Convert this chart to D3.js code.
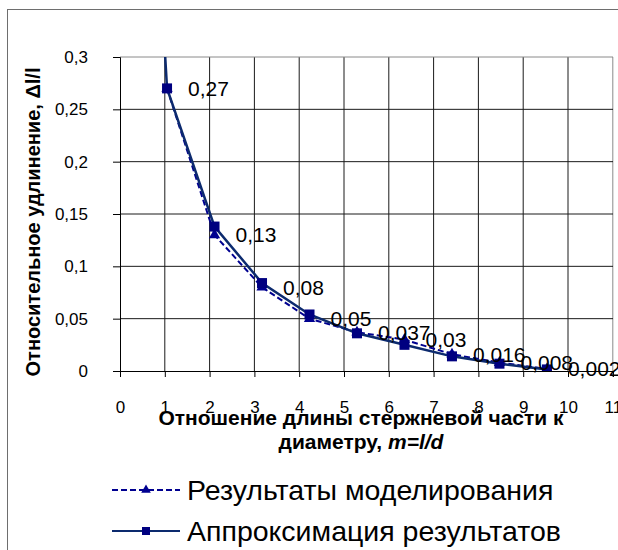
<!DOCTYPE html>
<html>
<head>
<meta charset="utf-8">
<script src="https://cdn.jsdelivr.net/npm/d3@7"></script>
<style>
  body { margin: 0; background: #fff; }
  svg { display: block; font-family: "Liberation Sans", Arial, sans-serif; }
</style>
</head>
<body>
<div id="chart"></div>
<script>
// m = l/d, shared by both series
const mValues = [1.05, 2.11, 3.17, 4.23, 5.29, 6.35, 7.41, 8.47, 9.53];
// Результаты моделирования (labelled points)
const modelValues = [0.27, 0.13, 0.08, 0.05, 0.037, 0.03, 0.016, 0.008, 0.002];
const modelLabels = ["0,27", "0,13", "0,08", "0,05", "0,037", "0,03", "0,016", "0,008", "0,002"];
// Аппроксимация результатов (first point lies above the axis maximum)
const approxM = [0.6, 1.05, 2.11, 3.17, 4.23, 5.29, 6.35, 7.41, 8.47, 9.53];
const approxValues = [0.6, 0.27, 0.138, 0.084, 0.054, 0.036, 0.025, 0.014, 0.007, 0.0015];

const xTicks = [0, 1, 2, 3, 4, 5, 6, 7, 8, 9, 10, 11];
const yTicks = [0, 0.05, 0.1, 0.15, 0.2, 0.25, 0.3];
const yTickLabels = ["0", "0,05", "0,1", "0,15", "0,2", "0,25", "0,3"];
const seriesNames = ["Результаты моделирования", "Аппроксимация результатов"];

const W = 618, H = 550;
const margin = {top: 57, right: 5, bottom: 179, left: 120};
const plotW = W - margin.left - margin.right,   // 493 -> 0..11
      plotH = H - margin.top - margin.bottom;   // 314 -> 0..0.3

const svg = d3.select("#chart").append("svg")
    .attr("width", W)
    .attr("height", H);

// outer chart border
svg.append("rect")
    .attr("x", 7.5).attr("y", 9.5)
    .attr("width", W).attr("height", H)
    .attr("fill", "none")
    .attr("stroke", "#6e6e6e");

const g = svg.append("g")
    .attr("transform", "translate(" + margin.left + "," + margin.top + ")");

const x = d3.scaleLinear().domain([0, 11]).range([0, plotW - 0.2]);
const y = d3.scaleLinear().domain([0, 0.3]).range([plotH, 0]);

g.append("clipPath").attr("id", "clip")
  .append("rect").attr("width", plotW).attr("height", plotH);

// grid
g.append("g").selectAll("line")
    .data(xTicks.slice(1))
    .enter().append("line")
    .attr("x1", d => x(d)).attr("x2", d => x(d))
    .attr("y1", 0).attr("y2", plotH)
    .attr("stroke", d => d === 11 ? "#8a8a8a" : "#1a1a1a");

g.append("g").selectAll("line")
    .data(yTicks.slice(1))
    .enter().append("line")
    .attr("x1", 0).attr("x2", plotW)
    .attr("y1", d => y(d)).attr("y2", d => y(d))
    .attr("stroke", d => d === 0.3 ? "#8a8a8a" : "#1a1a1a");

// axes
const xAxis = d3.axisBottom(x).tickValues(xTicks).tickSize(6).tickFormat(d => d);
const yAxis = d3.axisLeft(y).tickValues(yTicks).tickSize(7)
    .tickFormat((d, i) => yTickLabels[i]);

const gx = g.append("g")
    .attr("transform", "translate(0," + plotH + ")")
    .call(xAxis);
gx.select(".domain").attr("stroke", "#000");
gx.selectAll(".tick line").attr("stroke", "#000");
gx.selectAll(".tick text")
    .attr("y", 36)
    .attr("dy", "0.35em")
    .style("font-size", "17px")
    .attr("fill", "#000");

const gy = g.append("g").call(yAxis);
gy.select(".domain").attr("stroke", "#000");
gy.selectAll(".tick line").attr("stroke", "#000");
gy.selectAll(".tick text")
    .attr("x", -32)
    .style("font-size", "17px")
    .attr("fill", "#000");

// series
const plot = g.append("g").attr("clip-path", "url(#clip)");

const modelData = mValues.map((m, i) => ({m: m, v: modelValues[i], label: modelLabels[i]}));
const approxData = approxM.map((m, i) => ({m: m, v: approxValues[i]}));

const line = d3.line().x(d => x(d.m)).y(d => y(d.v));

plot.append("path")
    .datum(modelData)
    .attr("d", line)
    .attr("fill", "none")
    .attr("stroke", "#000090")
    .attr("stroke-width", 2)
    .attr("stroke-dasharray", "6,3");

const tri = d3.symbol().type(d3.symbolTriangle).size(55);
plot.selectAll("path.tri")
    .data(modelData)
    .enter().append("path")
    .attr("class", "tri")
    .attr("d", tri)
    .attr("transform", d => "translate(" + x(d.m) + "," + y(d.v) + ")")
    .attr("fill", "#000090");

plot.append("path")
    .datum(approxData)
    .attr("d", line)
    .attr("fill", "none")
    .attr("stroke", "#0c2a6e")
    .attr("stroke-width", 2.5);

plot.selectAll("rect.sq")
    .data(approxData)
    .enter().append("rect")
    .attr("class", "sq")
    .attr("x", d => x(d.m) - 5)
    .attr("y", d => y(d.v) - 5)
    .attr("width", 10).attr("height", 10)
    .attr("fill", "#000080");

// data labels for the model series
g.selectAll("text.lbl")
    .data(modelData)
    .enter().append("text")
    .attr("class", "lbl")
    .attr("x", d => x(d.m) + 21)
    .attr("y", d => y(d.v))
    .attr("dy", "0.36em")
    .style("font-size", "21px")
    .attr("fill", "#000")
    .text(d => d.label);

// axis titles
const xt = svg.append("text")
    .attr("x", 361)
    .attr("text-anchor", "middle")
    .style("font-size", "21px")
    .style("font-weight", "bold");
xt.append("tspan").attr("x", 361).attr("y", 425).text("Отношение длины стержневой части к");
const xt2 = xt.append("tspan").attr("x", 361).attr("y", 449);
xt2.append("tspan").text("диаметру, ");
xt2.append("tspan").style("font-style", "italic").text("m=l/d");

svg.append("text")
    .attr("transform", "translate(40,222) rotate(-90)")
    .attr("text-anchor", "middle")
    .style("font-size", "20px")
    .style("font-weight", "bold")
    .text("Относительное удлинение,  Δl/l");

// legend
const legend = svg.append("g").attr("transform", "translate(112,0)");
const legendRows = [
  {name: seriesNames[0], y: 490, dash: "6,3", color: "#000090", marker: "tri"},
  {name: seriesNames[1], y: 531, dash: null, color: "#0c2a6e", marker: "sq"}
];
const rows = legend.selectAll("g")
    .data(legendRows)
    .enter().append("g")
    .attr("transform", d => "translate(0," + d.y + ")");
rows.append("line")
    .attr("x1", 0).attr("x2", 68)
    .attr("stroke", d => d.color)
    .attr("stroke-width", 2)
    .attr("stroke-dasharray", d => d.dash);
rows.filter(d => d.marker === "tri").append("path")
    .attr("d", d3.symbol().type(d3.symbolTriangle).size(40))
    .attr("transform", "translate(34,0)")
    .attr("fill", "#000090");
rows.filter(d => d.marker === "sq").append("rect")
    .attr("x", 30).attr("y", -4).attr("width", 8).attr("height", 8)
    .attr("fill", "#000080");
rows.append("text")
    .attr("x", 75)
    .attr("dy", "0.36em")
    .style("font-size", "28.5px")
    .attr("fill", "#000")
    .text(d => d.name);
</script>
</body>
</html>
